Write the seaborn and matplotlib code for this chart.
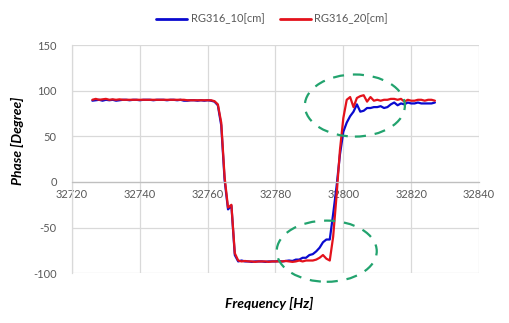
import numpy as np
import pandas as pd
import matplotlib
matplotlib.use("Agg")
import matplotlib.pyplot as plt
from matplotlib.patches import Ellipse
import seaborn as sns

freq = list(range(32726, 32828))

phase_10 = [
    89, 89.5, 90, 89, 90, 89.5, 90, 89, 89.5, 90,          # 32726-32735
    90, 89.5, 90, 90, 89.5, 90, 90, 90, 89.5, 90,          # 32736-32745
    90, 90, 89.5, 90, 90, 89.5, 90, 89, 89, 89.5,          # 32746-32755
    89.5, 89, 89.5, 89, 89.5, 89, 88, 84, 62, 2,           # 32756-32765
    -30, -26, -80, -87, -86, -87, -87, -87.5, -87, -87,    # 32766-32775
    -87, -87.5, -87, -87, -87, -86.5, -87, -86.5, -86, -86.5,  # 32776-32785
    -85, -85, -83, -83, -80, -79, -76, -72, -66, -63,      # 32786-32795
    -63, -35, -5, 30, 55, 65, 72, 77, 85, 77,              # 32796-32805
    78, 81, 81, 82, 82, 83, 81, 82, 85, 87,                # 32806-32815
    84, 86, 85, 87, 86, 86, 87, 86, 86, 86,                # 32816-32825
    86, 87,                                                # 32826-32827
]

phase_20 = [
    90, 91, 90, 90.5, 91, 90, 90.5, 90, 90.5, 90,          # 32726-32735
    90, 90, 90, 90, 90, 90, 90, 90, 90, 90,                # 32736-32745
    90, 90, 90, 90, 90, 90, 90, 90, 89.5, 89.5,            # 32746-32755
    89.5, 89.5, 89.5, 89.5, 89.5, 89.5, 88.5, 85, 65, 5,   # 32756-32765
    -28, -25, -78, -86, -87, -86.5, -87, -87, -87.5, -87,  # 32766-32775
    -87, -87, -87.5, -87, -87, -87, -87, -86.5, -87, -87.5,  # 32776-32785
    -87, -86, -87, -86, -86, -86, -85, -83, -80, -84,      # 32786-32795
    -86, -60, -15, 35, 70, 90, 93, 82, 92, 94,             # 32796-32805
    95, 88, 93, 89, 90, 89, 90, 90, 91, 91,                # 32806-32815
    90, 91, 88, 90, 89, 89, 90, 90, 89, 90,                # 32816-32825
    90, 89,                                                # 32826-32827
]

series_names = ["RG316_10[cm]", "RG316_20[cm]"]
colors = ["#0A0ACF", "#E3121C"]

x_ticks = [32720, 32740, 32760, 32780, 32800, 32820, 32840]
y_ticks = [-100, -50, 0, 50, 100, 150]

df = pd.DataFrame({
    "Frequency": freq * 2,
    "Phase": phase_10 + phase_20,
    "Series": [series_names[0]] * len(freq) + [series_names[1]] * len(freq),
})

sns.set_theme(style="white")
plt.rcParams["font.family"] = ["Lato", "DejaVu Sans"]

fig = plt.figure(figsize=(5.10, 3.23), dpi=100)
ax = fig.add_axes([72 / 510, 1 - 273.3 / 323, (479 - 72) / 510, (273.3 - 45) / 323])

sns.lineplot(data=df, x="Frequency", y="Phase", hue="Series",
             palette=dict(zip(series_names, colors)), linewidth=1.6,
             ax=ax, legend=True)

ax.set_xlim(32720, 32840)
ax.set_ylim(-100, 150)
ax.set_xticks(x_ticks)
ax.set_yticks(y_ticks)
ax.set_xticklabels([str(t) for t in x_ticks])
ax.set_yticklabels([str(t) for t in y_ticks])
ax.grid(True, color="#D9D9D9", linewidth=0.9)
ax.set_axisbelow(True)

for s in ["top", "right"]:
    ax.spines[s].set_visible(False)
ax.spines["left"].set_color("#D9D9D9")
ax.spines["left"].set_linewidth(0.9)
ax.spines["bottom"].set_position(("data", 0))
ax.spines["bottom"].set_color("#BFBFBF")
ax.spines["bottom"].set_linewidth(0.9)
ax.tick_params(axis="both", length=0, labelsize=8, labelcolor="#595959")
ax.tick_params(axis="x", pad=5)
ax.tick_params(axis="y", pad=11)
ax.set_xlabel("")
ax.set_ylabel("")

# annotation ellipses
ax.add_patch(Ellipse((32803.4, 83.7), 29.5, 68, fill=False, edgecolor="#22A36E",
                     linestyle=(0, (5, 4)), linewidth=1.6, clip_on=False, zorder=5))
ax.add_patch(Ellipse((32795.1, -75.8), 29.5, 67, fill=False, edgecolor="#22A36E",
                     linestyle=(0, (5, 4)), linewidth=1.6, clip_on=False, zorder=5))

leg = ax.legend(loc="center", bbox_to_anchor=(272 / 510, 1 - 19 / 323),
                bbox_transform=fig.transFigure, ncol=2, frameon=False,
                fontsize=8, handlelength=2.8, columnspacing=1.4, handletextpad=0.3)
for t in leg.get_texts():
    t.set_color("#595959")
for h in leg.get_lines():
    h.set_linewidth(2)

fig.text(269 / 510, 1 - 303 / 323, "Frequency [Hz]", ha="center", va="center",
         fontsize=10, fontweight="bold", fontstyle="italic", color="#000000")
fig.text(17 / 510, 1 - 141 / 323, "Phase [Degree]", ha="center", va="center",
         rotation=90, fontsize=10, fontweight="bold", fontstyle="italic", color="#000000")

fig.savefig("out.png", dpi=100)
